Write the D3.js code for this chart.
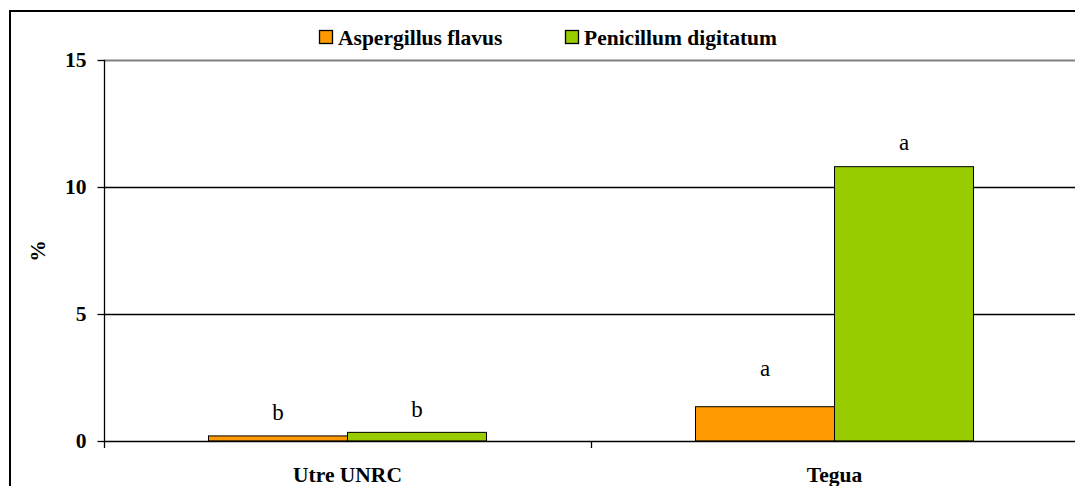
<!DOCTYPE html>
<html><head><meta charset="utf-8">
<script src="https://cdn.jsdelivr.net/npm/d3@7"></script>
<style>body{margin:0;background:#fff}svg{display:block} text{font-family:'Liberation Serif','Times New Roman',serif;}</style>
</head><body>
<script>
const categories = ["Utre UNRC", "Tegua"];
const seriesNames = ["Aspergillus flavus", "Penicillum digitatum"];
const aspergillus = [0.2, 1.35];
const penicillium = [0.34, 10.8];
const letters = [["b", "a"], ["b", "a"]]; // [series][category]
const letterPos = [[0.83, 2.56], [0.94, 11.46]]; // label baseline in value units
const yTicks = [0, 5, 10, 15];
const colors = ["#FF9900", "#99CC00"];

const W = 1075, H = 486;
const svg = d3.select("body").append("svg").attr("width", W).attr("height", H);
const pLeft = 104, pRight = 1078, pTop = 60, pBottom = 441;
const BOLD = 21.5;

// outer frame
svg.append("rect").attr("x", 10).attr("y", 11).attr("width", W).attr("height", H)
  .attr("fill", "none").attr("stroke", "#000").attr("stroke-width", 2);

const y = d3.scaleLinear().domain([0, 15]).range([pBottom, pTop]);
const x0 = d3.scaleBand().domain(categories).range([pLeft, pRight]).paddingInner(0).paddingOuter(0);
const groupW = 278;
const x1 = d3.scaleBand().domain(seriesNames).range([0, groupW]).padding(0);

// gridlines
svg.append("g").selectAll("line").data(yTicks.filter(d => d > 0)).join("line")
  .attr("x1", pLeft).attr("x2", pRight)
  .attr("y1", d => Math.round(y(d)) + 0.5).attr("y2", d => Math.round(y(d)) + 0.5)
  .attr("stroke", d => d === 15 ? "#808080" : "#000")
  .attr("stroke-width", d => d === 15 ? 2 : 1.3);

const data = [aspergillus, penicillium];
const g = svg.append("g");
seriesNames.forEach((s, si) => {
  g.selectAll(".bar" + si).data(categories).join("rect")
    .attr("x", c => x0(c) + (x0.bandwidth() - groupW) / 2 + x1(s))
    .attr("y", (c, ci) => y(data[si][ci]))
    .attr("width", x1.bandwidth())
    .attr("height", (c, ci) => pBottom - y(data[si][ci]))
    .attr("fill", colors[si]).attr("stroke", "#000").attr("stroke-width", 1);
  g.selectAll(".lab" + si).data(categories).join("text")
    .attr("x", c => x0(c) + (x0.bandwidth() - groupW) / 2 + x1(s) + x1.bandwidth() / 2)
    .attr("y", (c, ci) => y(letterPos[si][ci]))
    .attr("text-anchor", "middle")
    .attr("font-size", 23).attr("fill", "#000")
    .text((c, ci) => letters[si][ci]);
});

// y axis
const yAxis = d3.axisLeft(y).tickValues(yTicks).tickSize(7).tickSizeOuter(0).tickPadding(11);
const ya = svg.append("g").attr("transform", `translate(${pLeft + 0.5},0)`).call(yAxis);
ya.attr("font-family", null);
ya.select(".domain").remove();
ya.append("line").attr("x1", 0).attr("x2", 0).attr("y1", pTop).attr("y2", pBottom + 7).attr("stroke", "#000").attr("stroke-width", 1.3);
ya.selectAll(".tick line").attr("stroke", "#000").attr("stroke-width", 1.3);
ya.selectAll("text").attr("font-size", BOLD).attr("font-weight", "bold").attr("fill", "#000");

// x axis
svg.append("line").attr("x1", pLeft).attr("x2", pRight).attr("y1", pBottom + 0.5).attr("y2", pBottom + 0.5)
  .attr("stroke", "#000").attr("stroke-width", 1.3);
const bounds = [x0(categories[1])];
svg.append("g").selectAll("line").data(bounds).join("line")
  .attr("x1", d => Math.round(d) + 0.5).attr("x2", d => Math.round(d) + 0.5)
  .attr("y1", pBottom).attr("y2", pBottom + 7).attr("stroke", "#000").attr("stroke-width", 1.3);
svg.append("g").selectAll("text").data(categories).join("text")
  .attr("x", c => x0(c) + x0.bandwidth() / 2)
  .attr("y", 482).attr("text-anchor", "middle")
  .attr("font-size", BOLD).attr("font-weight", "bold").text(c => c);

// y title
svg.append("text").attr("transform", "translate(45,251) rotate(-90)")
  .attr("text-anchor", "middle")
  .attr("font-size", BOLD).attr("font-weight", "bold").text("%");

// legend
const legX = [319, 565];
const leg = svg.append("g");
seriesNames.forEach((s, i) => {
  leg.append("rect").attr("x", legX[i] + 0.5).attr("y", 30.5).attr("width", 13).attr("height", 13)
    .attr("fill", colors[i]).attr("stroke", "#000").attr("stroke-width", 1.3);
  leg.append("text").attr("x", legX[i] + 19).attr("y", 45)
    .attr("font-size", BOLD).attr("font-weight", "bold").text(s);
});
</script>
</body></html>
